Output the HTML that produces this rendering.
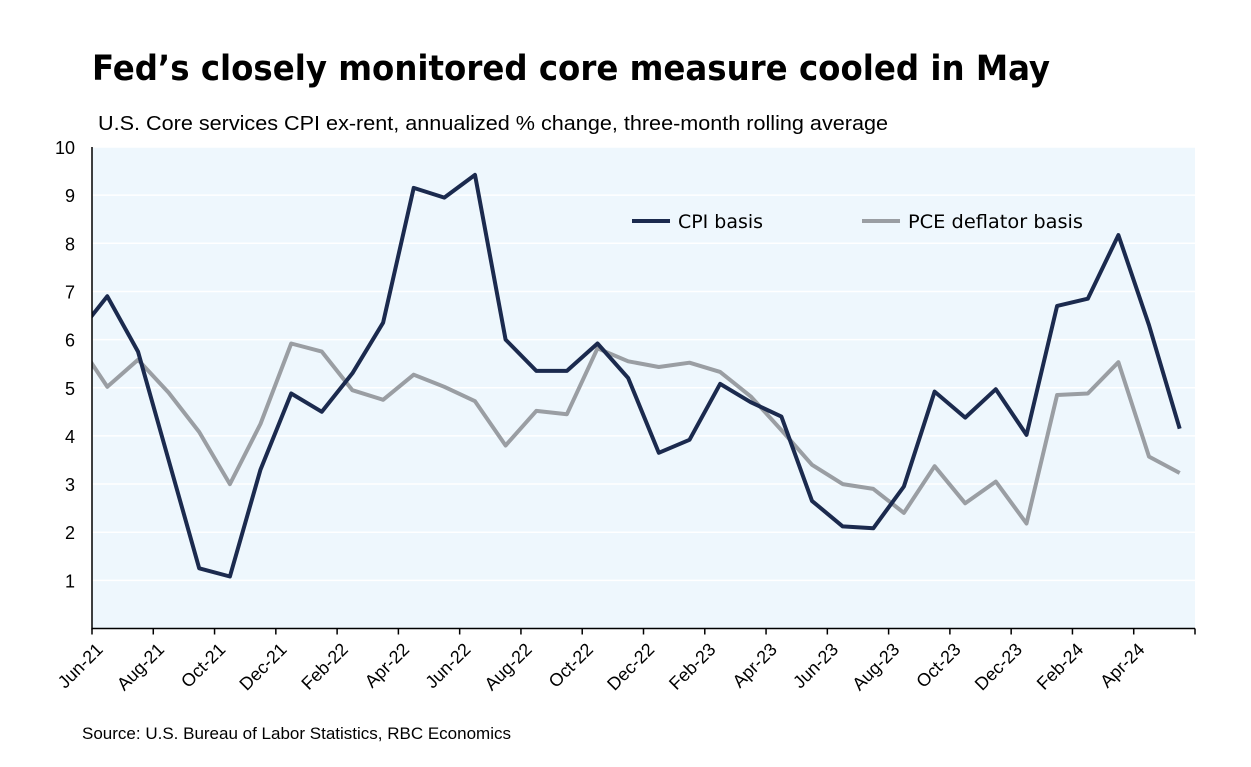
<!DOCTYPE html>
<html><head><meta charset="utf-8"><style>
body{margin:0;background:#fff;}
svg text{font-family:"Liberation Sans",sans-serif;}
</style></head><body>
<svg width="1251" height="762" xmlns="http://www.w3.org/2000/svg">
<text x="92" y="80" font-size="35" font-weight="bold" fill="#000" textLength="958" lengthAdjust="spacingAndGlyphs" style="font-family:'DejaVu Sans Condensed','DejaVu Sans',sans-serif">Fed’s closely monitored core measure cooled in May</text>
<text x="98" y="130" font-size="20" fill="#000" textLength="790" lengthAdjust="spacingAndGlyphs">U.S. Core services CPI ex-rent, annualized % change, three-month rolling average</text>
<rect x="92" y="147" width="1103" height="482" fill="#eef7fd"/>
<g id="grid"></g>
<g id="series" clip-path="url(#clip)"></g>
<defs><clipPath id="clip"><rect x="92" y="140" width="1103" height="490"/></clipPath></defs>
<g id="axes"></g>
<g>
<line x1="632" y1="221" x2="670" y2="221" stroke="#1b2a4e" stroke-width="4"/>
<text x="678" y="228" font-size="19" textLength="85" lengthAdjust="spacingAndGlyphs" style="font-family:'DejaVu Sans',sans-serif">CPI basis</text>
<line x1="862" y1="221" x2="900" y2="221" stroke="#9a9ea3" stroke-width="4"/>
<text x="908" y="228" font-size="19" textLength="175" lengthAdjust="spacingAndGlyphs" style="font-family:'DejaVu Sans',sans-serif">PCE deflator basis</text>
</g>
<text x="82" y="739" font-size="17" textLength="429" lengthAdjust="spacingAndGlyphs">Source: U.S. Bureau of Labor Statistics, RBC Economics</text>
</svg>
<script>
const categories=["May-21","Jun-21","Jul-21","Aug-21","Sep-21","Oct-21","Nov-21","Dec-21","Jan-22","Feb-22","Mar-22","Apr-22","May-22","Jun-22","Jul-22","Aug-22","Sep-22","Oct-22","Nov-22","Dec-22","Jan-23","Feb-23","Mar-23","Apr-23","May-23","Jun-23","Jul-23","Aug-23","Sep-23","Oct-23","Nov-23","Dec-23","Jan-24","Feb-24","Mar-24","Apr-24","May-24"];
const cpiValues=[6.1,6.9,5.75,3.5,1.25,1.08,3.3,4.88,4.5,5.3,6.35,9.15,8.95,9.42,6.0,5.35,5.35,5.92,5.2,3.65,3.92,5.08,4.7,4.4,2.65,2.12,2.08,2.95,4.92,4.38,4.97,4.02,6.7,6.85,8.17,6.3,4.15];
const pceValues=[5.98,5.02,5.58,4.9,4.08,3.0,4.25,5.92,5.75,4.95,4.75,5.27,5.02,4.72,3.8,4.52,4.45,5.82,5.55,5.43,5.52,5.33,4.82,4.12,3.4,3.0,2.9,2.4,3.37,2.6,3.05,2.18,4.85,4.88,5.53,3.57,3.23];
const yTicks=[1,2,3,4,5,6,7,8,9,10];
const NS="http://www.w3.org/2000/svg";
const x0=92,x1=1195,y0=628.5,yTop=147;
const bw=(x1-x0)/36;
const xc=i=>x0+(i-0.5)*bw;
const yv=v=>y0-(v/10)*(y0-yTop);
function mk(t,a,p){const e=document.createElementNS(NS,t);for(const k in a)e.setAttribute(k,a[k]);p.appendChild(e);return e;}
const grid=document.getElementById('grid'),axes=document.getElementById('axes'),series=document.getElementById('series');
yTicks.forEach(v=>{
 const g=mk('line',{x1:x0,x2:x1,y1:yv(v),y2:yv(v),stroke:'#fff','stroke-width':1.5},grid);
 
 
 const t=mk('text',{x:75,y:yv(v)+7,'font-size':18,'text-anchor':'end'},axes);
 t.textContent=v;
 
 
});
const ya=mk('line',{x1:x0,x2:x0,y1:yTop,y2:y0+1,stroke:'#000','stroke-width':1.5},axes);


const xa=mk('line',{x1:x0,x2:x1,y1:y0,y2:y0,stroke:'#000','stroke-width':1.5},axes);


for(let i=1;i<categories.length;i+=2){
 const x=x0+(i-1)*bw;
 const tk=mk('line',{x1:x,x2:x,y1:y0,y2:y0+6,stroke:'#000','stroke-width':1.5},axes);
 
 
 const t=mk('text',{x:x+12,y:y0+22,'font-size':18,'text-anchor':'end',transform:`rotate(-45 ${x+12} ${y0+22})`},axes);
 t.textContent=categories[i];
 
 
}
const lastTick=mk('line',{x1:x1,x2:x1,y1:y0,y2:y0+6,stroke:'#000','stroke-width':1.5},axes);


function line(vals,color,name){
 const d=vals.map((v,i)=>(i?'L':'M')+xc(i).toFixed(1)+','+yv(v).toFixed(1)).join('');
 const p=mk('path',{d:d,fill:'none',stroke:color,'stroke-width':4,'stroke-linejoin':'round'},series);
 
 
}
line(pceValues,'#9a9ea3','pce-line');
line(cpiValues,'#1b2a4e','cpi-line');
</script>
</body></html>
